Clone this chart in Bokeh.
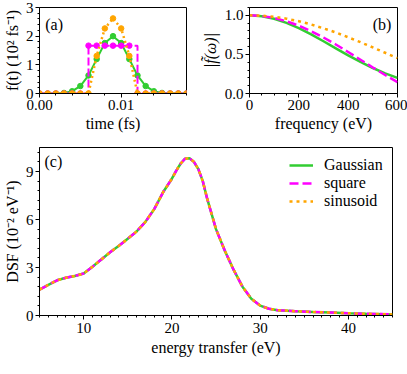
from bokeh.plotting import figure
from bokeh.layouts import column, row
from bokeh.models import FixedTicker, Label, PrintfTickFormatter
from bokeh.embed import file_html
from bokeh.resources import INLINE

FONT = "Liberation Serif"
GREEN = "#32cd32"
MAGENTA = "#ff00ff"
ORANGE = "#ffa500"

# ---------------- panel (a): pulse shapes ----------------
t_fs = [0.000, 0.001, 0.002, 0.003, 0.004, 0.005, 0.006, 0.007, 0.008, 0.009,
        0.010, 0.011, 0.012, 0.013, 0.014, 0.015, 0.016, 0.017, 0.018]
gauss_f = [0.0, 0.0, 0.0, 0.02, 0.08, 0.26, 0.63, 1.2, 1.76, 2.0,
           1.76, 1.2, 0.63, 0.26, 0.08, 0.02, 0.0, 0.0, 0.0]
square_f = [0.0, 0.0, 0.0, 0.0, 0.0, 0.0, 1.67, 1.67, 1.67, 1.67,
            1.67, 1.67, 0.0, 0.0, 0.0, 0.0, 0.0, 0.0, 0.0]
sinus_f = [0.0, 0.0, 0.0, 0.0, 0.0, 0.0, 0.0, 1.31, 2.27, 2.62,
           2.27, 1.31, 0.0, 0.0, 0.0, 0.0, 0.0, 0.0, 0.0]
square_line_t = [0.0, 0.006, 0.006, 0.012, 0.012, 0.018]
square_line_f = [0.0, 0.0, 1.67, 1.67, 0.0, 0.0]

# ---------------- panel (b): spectra ----------------
freq_ev = [0, 50, 100, 150, 200, 250, 300, 350, 400, 450, 500, 550, 600]
gauss_ft = [1.0, 0.989, 0.956, 0.904, 0.836, 0.756, 0.668, 0.578, 0.488, 0.404, 0.326, 0.258, 0.199]
square_ft = [1.0, 0.991, 0.966, 0.924, 0.867, 0.797, 0.716, 0.627, 0.531, 0.432, 0.333, 0.237, 0.145]
sinus_ft = [1.0, 0.995, 0.981, 0.957, 0.924, 0.883, 0.833, 0.781, 0.719, 0.656, 0.589, 0.521, 0.452]

# ---------------- panel (c): DSF ----------------
energy_ev = [5, 6, 7, 8, 9, 10, 11, 12, 13, 14, 15, 16, 17, 18, 19, 20, 20.5, 21, 21.5, 22,
             22.5, 23, 23.5, 24, 25, 26, 27, 28, 29, 30, 31, 32, 34, 36, 38, 40, 42, 45]
dsf = [1.62, 1.92, 2.2, 2.36, 2.47, 2.62, 3.05, 3.5, 3.95, 4.36, 4.8, 5.25, 5.85, 6.65, 7.7, 8.55,
       9.05, 9.5, 9.8, 9.83, 9.6, 9.15, 8.4, 7.3, 5.4, 4.05, 2.85, 1.8, 1.05, 0.62, 0.42, 0.33,
       0.27, 0.22, 0.18, 0.14, 0.11, 0.07]
dsf_gauss = dsf
dsf_square = dsf
dsf_sinus = dsf

# tick positions
a_xticks = [0.0, 0.01]
a_xminor = [0.002, 0.004, 0.006, 0.008, 0.012, 0.014, 0.016, 0.018]
a_yticks = [0, 1, 2, 3]
a_yminor = [0.2, 0.4, 0.6, 0.8, 1.2, 1.4, 1.6, 1.8, 2.2, 2.4, 2.6, 2.8]
b_xticks = [0, 200, 400, 600]
b_xminor = [50, 100, 150, 250, 300, 350, 450, 500, 550]
b_yticks = [0.0, 0.5, 1.0]
b_yminor = [0.1, 0.2, 0.3, 0.4, 0.6, 0.7, 0.8, 0.9, 1.1]
c_xticks = [10, 20, 30, 40]
c_xminor = [5, 6, 7, 8, 9, 11, 12, 13, 14, 15, 16, 17, 18, 19, 21, 22, 23, 24, 25, 26, 27, 28, 29,
            31, 32, 33, 34, 35, 36, 37, 38, 39, 41, 42, 43, 44, 45]
c_yticks = [0, 3, 6, 9]
c_yminor = [0.6, 1.2, 1.8, 2.4, 3.6, 4.2, 4.8, 5.4, 6.6, 7.2, 7.8, 8.4, 9.6, 10.2]


def style(p):
    p.xgrid.visible = False
    p.ygrid.visible = False
    p.outline_line_color = "black"
    p.outline_line_width = 1
    p.background_fill_color = "white"
    p.border_fill_color = "white"
    for ax in p.axis:
        ax.major_tick_out = 4
        ax.major_tick_in = 0
        ax.minor_tick_out = 2
        ax.minor_tick_in = 0
        ax.axis_line_color = "black"
        ax.major_tick_line_color = "black"
        ax.minor_tick_line_color = "black"
        ax.major_label_text_font = FONT
        ax.major_label_text_font_size = "15px"
        ax.major_label_text_color = "black"
        ax.axis_label_text_font = FONT
        ax.axis_label_text_font_size = "16px"
        ax.axis_label_text_font_style = "normal"
        ax.axis_label_text_color = "black"
        ax.major_label_standoff = 2
        ax.axis_label_standoff = 2


def panel_label(p, x, y, text, align="left"):
    p.add_layout(Label(x=x, y=y, text=text, text_font=FONT, text_font_size="16px",
                       text_baseline="middle", text_align=align, text_color="black"))


# (a)
pa = figure(frame_width=147, frame_height=86, x_range=(0, 0.018), y_range=(0, 3),
            output_backend="svg", toolbar_location=None,
            min_border_left=33, min_border_right=12, min_border_top=7, min_border_bottom=50)
style(pa)
pa.line(t_fs, gauss_f, line_color=GREEN, line_width=2)
pa.scatter(t_fs, gauss_f, size=5.5, fill_color=GREEN, line_color=GREEN)
pa.line(square_line_t, square_line_f, line_color=MAGENTA, line_width=2, line_dash="8 3")
pa.scatter(t_fs, square_f, size=5.5, fill_color=MAGENTA, line_color=MAGENTA)
pa.line(t_fs, sinus_f, line_color=ORANGE, line_width=2.5, line_dash="2 3")
pa.scatter(t_fs, sinus_f, size=5.5, fill_color=ORANGE, line_color=ORANGE)
pa.xaxis.ticker = FixedTicker(ticks=a_xticks, minor_ticks=a_xminor)
pa.yaxis.ticker = FixedTicker(ticks=a_yticks, minor_ticks=a_yminor)
pa.xaxis.formatter = PrintfTickFormatter(format="%.2f")
pa.xaxis.axis_label = "time (fs)"
pa.yaxis.axis_label = "f(t) (10² fs⁻¹)"
panel_label(pa, 0.0007, 2.42, "(a)")

# (b)
pb = figure(frame_width=148, frame_height=86, x_range=(0, 600), y_range=(0, 1.1),
            output_backend="svg", toolbar_location=None,
            min_border_left=46, min_border_right=10, min_border_top=7, min_border_bottom=50)
style(pb)
pb.line(freq_ev, gauss_ft, line_color=GREEN, line_width=2.5)
pb.line(freq_ev, square_ft, line_color=MAGENTA, line_width=2.5, line_dash="9 4")
pb.line(freq_ev, sinus_ft, line_color=ORANGE, line_width=2.5, line_dash="3 4")
pb.xaxis.ticker = FixedTicker(ticks=b_xticks, minor_ticks=b_xminor)
pb.yaxis.ticker = FixedTicker(ticks=b_yticks, minor_ticks=b_yminor)
pb.yaxis.formatter = PrintfTickFormatter(format="%.1f")
pb.yaxis.axis_label_standoff = 3
pb.xaxis.axis_label = "frequency (eV)"
pb.yaxis.axis_label = "|f\u0303(ω)|"
pb.yaxis.axis_label_text_font_style = "italic"
panel_label(pb, 575, 0.885, "(b)", align="right")

# (c)
pc = figure(frame_width=353, frame_height=168, x_range=(5, 45), y_range=(0, 10.5),
            output_backend="svg", toolbar_location=None,
            min_border_left=33, min_border_right=10, min_border_top=4, min_border_bottom=43)
style(pc)
pc.line(energy_ev, dsf_gauss, line_color=GREEN, line_width=2.5, legend_label="Gaussian")
pc.line(energy_ev, dsf_square, line_color=MAGENTA, line_width=2.5, line_dash="9 4",
        legend_label="square")
pc.line(energy_ev, dsf_sinus, line_color=ORANGE, line_width=2.5, line_dash="3 4",
        legend_label="sinusoid")
pc.xaxis.ticker = FixedTicker(ticks=c_xticks, minor_ticks=c_xminor)
pc.yaxis.ticker = FixedTicker(ticks=c_yticks, minor_ticks=c_yminor)
pc.xaxis.axis_label = "energy transfer (eV)"
pc.yaxis.axis_label = "DSF (10⁻² eV⁻¹)"
pc.xaxis.major_label_standoff = 3
pc.xaxis.axis_label_standoff = 3
panel_label(pc, 5.57, 9.625, "(c)")

lg = pc.legend[0]
lg.location = (245, 100)
lg.margin = 0
lg.padding = 5
lg.spacing = 0
lg.border_line_alpha = 0
lg.background_fill_alpha = 0
lg.label_text_font = FONT
lg.label_text_font_size = "16px"
lg.label_text_color = "black"
lg.glyph_width = 24
lg.glyph_height = 16
lg.label_height = 16
lg.label_standoff = 11

layout = column(row(pa, pb), pc)

open("out.html", "w").write(file_html(layout, INLINE))
